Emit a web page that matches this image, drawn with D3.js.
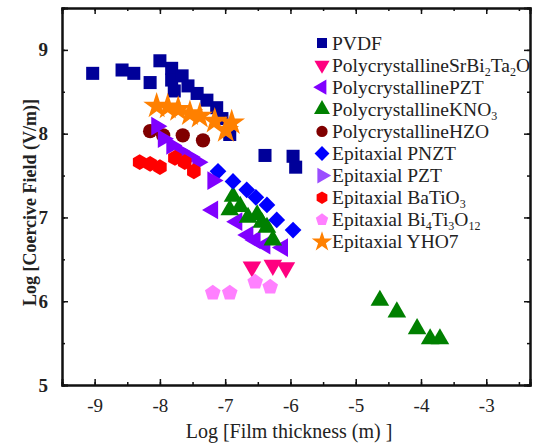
<!DOCTYPE html>
<html>
<head>
    <meta charset="utf-8">
    <title>Coercive field vs film thickness</title>
    <style type="text/css">
        body {
            margin: 0;
            background-color: #fff;
        }

        text {
            font-family: "Liberation Serif", "Times New Roman", serif;
            fill: #222;
        }
    </style>
</head>
<body>

<script src="https://cdn.jsdelivr.net/npm/d3@7"></script>
<script type="text/javascript">
    // data: [log thickness (m), log coercive field (V/m)]
    var pvdf = [[-9.03, 8.72], [-8.58, 8.76], [-8.40, 8.72], [-8.15, 8.61], [-8.00, 8.87], [-7.82, 8.78],
        [-7.82, 8.64], [-7.66, 8.69], [-7.78, 8.51], [-7.57, 8.57], [-7.43, 8.48], [-7.28, 8.40],
        [-7.13, 8.31], [-7.05, 8.18], [-6.93, 7.99], [-6.39, 7.74], [-5.96, 7.73], [-5.92, 7.60]];
    var polySBT = [[-6.59, 6.41], [-6.27, 6.43], [-6.07, 6.40]];
    var polyPZT = [[-7.19, 7.09], [-6.82, 6.95], [-6.65, 6.79], [-6.54, 6.73], [-6.39, 6.67], [-6.12, 6.64]];
    var polyKNO3 = [[-6.88, 7.25], [-6.93, 7.09], [-6.77, 7.13], [-6.65, 7.00], [-6.51, 7.03], [-6.44, 6.94],
        [-6.36, 6.88], [-6.27, 6.73], [-4.63, 6.01], [-4.37, 5.87], [-4.06, 5.67], [-3.86, 5.55], [-3.71, 5.55]];
    var polyHZO = [[-8.15, 8.03], [-7.95, 7.98], [-7.65, 7.98], [-7.34, 7.92]];
    var epiPNZT = [[-7.11, 7.55], [-6.88, 7.43], [-6.67, 7.33], [-6.53, 7.24], [-6.36, 7.15], [-6.21, 6.97], [-5.96, 6.85]];
    var epiPZT = [[-8.05, 8.09], [-7.95, 7.94], [-7.82, 7.86], [-7.69, 7.79], [-7.54, 7.72], [-7.42, 7.66], [-7.19, 7.44]];
    var epiBTO = [[-8.31, 7.66], [-8.15, 7.64], [-8.00, 7.60], [-7.77, 7.71], [-7.62, 7.66], [-7.48, 7.55]];
    var epiBiT = [[-7.19, 6.10], [-6.93, 6.10], [-6.54, 6.23], [-6.31, 6.17]];
    var epiYHO7 = [[-8.05, 8.33], [-7.88, 8.32], [-7.72, 8.29], [-7.54, 8.24], [-7.39, 8.21], [-7.16, 8.15],
        [-6.90, 8.13], [-6.99, 8.04]];

    var xTicks = [-9, -8, -7, -6, -5, -4, -3];
    var yTicks = [5, 6, 7, 8, 9];

    // 多边形符号
    function polygon(n) {
        return {
            draw: function (ctx, size) {
                var r = Math.sqrt(size / (n / 2 * Math.sin(2 * Math.PI / n)));
                for (var i = 0; i < n; i++) {
                    var a = i * 2 * Math.PI / n;
                    if (i === 0) ctx.moveTo(r * Math.sin(a), -r * Math.cos(a));
                    else ctx.lineTo(r * Math.sin(a), -r * Math.cos(a));
                }
                ctx.closePath();
            }
        };
    }

    var series = [
        {name: "PVDF", data: pvdf, type: d3.symbolSquare, rot: 0, size: 170, lsize: 100, color: "#000099"},
        {name: "PolycrystallineSrBi_2Ta_2O", data: polySBT, type: d3.symbolTriangle, rot: 180, size: 150, lsize: 100, color: "#ff0080"},
        {name: "PolycrystallinePZT", data: polyPZT, type: d3.symbolTriangle, rot: -90, size: 150, lsize: 100, color: "#8000ff"},
        {name: "PolycrystallineKNO_3", data: polyKNO3, type: d3.symbolTriangle, rot: 0, size: 150, lsize: 110, color: "#008000"},
        {name: "PolycrystallineHZO", data: polyHZO, type: d3.symbolCircle, rot: 0, size: 160, lsize: 100, color: "#800000"},
        {name: "Epitaxial PNZT", data: epiPNZT, type: d3.symbolSquare, rot: 45, size: 140, lsize: 110, color: "#0000ff"},
        {name: "Epitaxial PZT", data: epiPZT, type: d3.symbolTriangle, rot: 90, size: 150, lsize: 110, color: "#9a4dff"},
        {name: "Epitaxial BaTiO_3", data: epiBTO, type: polygon(6), rot: 0, size: 160, lsize: 100, color: "#ff0000"},
        {name: "Epitaxial Bi_4Ti_3O_{12}", data: epiBiT, type: polygon(5), rot: 0, size: 160, lsize: 100, color: "#ff80ff"},
        {name: "Epitaxial YHO7", data: epiYHO7, type: d3.symbolStar, rot: 0, size: 220, lsize: 130, color: "#ff8000"}
    ];

    var width = 534, height = 446;
    var padL = 62, padR = 530, padT = 8, padB = 385;

    var svg = d3.select("body")
        .append("svg")
        .attr("width", width)
        .attr("height", height);

    var x = d3.scaleLinear().domain([-9.5, -2.33]).range([padL, padR]);
    var y = d3.scaleLinear().domain([5, 9.5]).range([padB, padT]);

    var minorX = d3.range(-9.5, -2.4, 0.5);
    var minorY = d3.range(5, 9.51, 0.5);
    var fmt = function (d) { return String(d); };

    // 坐标轴 (刻度朝内)
    svg.append("g")
        .attr("transform", "translate(0," + padB + ")")
        .call(d3.axisBottom(x).tickValues(minorX).tickSize(-3).tickFormat(""));
    svg.append("g")
        .attr("transform", "translate(0," + padB + ")")
        .call(d3.axisBottom(x).tickValues(xTicks).tickSize(-6).tickPadding(14).tickFormat(fmt))
        .call(function (g) {
            g.selectAll("text").style("font-size", "19px").attr("fill", "#222");
        });
    svg.append("g")
        .attr("transform", "translate(0," + padT + ")")
        .call(d3.axisTop(x).tickValues(minorX).tickSize(-3).tickFormat(""));
    svg.append("g")
        .attr("transform", "translate(0," + padT + ")")
        .call(d3.axisTop(x).tickValues(xTicks).tickSize(-6).tickFormat(""));

    svg.append("g")
        .attr("transform", "translate(" + padL + ",0)")
        .call(d3.axisLeft(y).tickValues(minorY).tickSize(-3).tickFormat(""));
    svg.append("g")
        .attr("transform", "translate(" + padL + ",0)")
        .call(d3.axisLeft(y).tickValues(yTicks).tickSize(-6).tickPadding(14).tickFormat(fmt))
        .call(function (g) {
            g.selectAll("text").style("font-size", "19px").style("font-weight", "bold").attr("fill", "#333");
        });
    svg.append("g")
        .attr("transform", "translate(" + padR + ",0)")
        .call(d3.axisRight(y).tickValues(minorY).tickSize(-3).tickFormat(""));
    svg.append("g")
        .attr("transform", "translate(" + padR + ",0)")
        .call(d3.axisRight(y).tickValues(yTicks).tickSize(-6).tickFormat(""));

    svg.selectAll(".domain").attr("stroke", "#111").attr("stroke-width", 2);
    svg.selectAll(".tick line").attr("stroke", "#111").attr("stroke-width", 1.5);

    // 轴标题
    svg.append("text")
        .attr("x", 289)
        .attr("y", 438)
        .attr("text-anchor", "middle")
        .style("font-size", "20px")
        .text("Log [Film thickness (m) ]");

    svg.append("text")
        .attr("transform", "translate(36," + ((padT + padB) / 2 + 6) + ") rotate(-90)")
        .attr("text-anchor", "middle")
        .style("font-size", "18px")
        .style("font-weight", "bold")
        .attr("fill", "#444")
        .text("Log [Coercive Field (V/m)]");

    // 数据点
    series.forEach(function (s) {
        var sym = d3.symbol().type(s.type).size(s.size);
        svg.append("g")
            .selectAll("path")
            .data(s.data)
            .enter()
            .append("path")
            .attr("d", sym)
            .attr("transform", function (d) {
                return "translate(" + x(d[0]) + "," + y(d[1]) + ") rotate(" + s.rot + ")";
            })
            .attr("fill", s.color === "#9a4dff" ? "#8000ff" : s.color);
    });

    // 图例
    var legend = svg.append("g");
    series.forEach(function (s, i) {
        var ly = 43 + i * 22.1;
        legend.append("path")
            .attr("d", d3.symbol().type(s.type).size(s.lsize))
            .attr("transform", "translate(322," + ly + ") rotate(" + s.rot + ")")
            .attr("fill", s.color);
        var t = legend.append("text")
            .attr("x", 332)
            .attr("y", ly + 6.5)
            .style("font-size", "19.5px");
        s.name.split(/_\{?(\d+)\}?/).forEach(function (part, j) {
            if (part === "") return;
            var span = t.append("tspan").text(part);
            if (j % 2 === 1) {
                span.style("font-size", "12px").attr("dy", 4);
            } else if (j > 0) {
                span.attr("dy", -4);
            }
        });
    });
</script>
</body>
</html>
